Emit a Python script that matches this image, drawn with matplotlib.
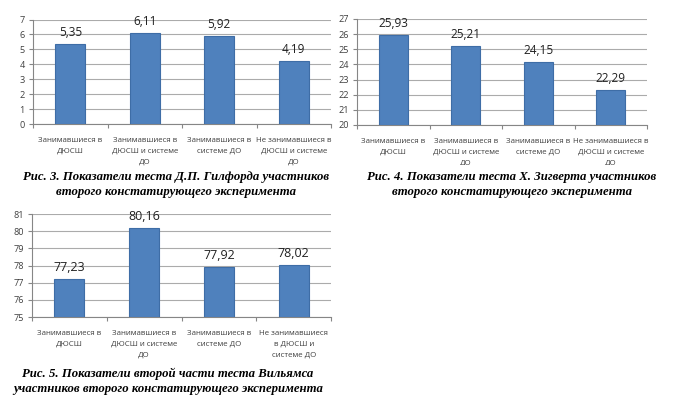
import matplotlib
matplotlib.use("Agg")
import matplotlib.pyplot as plt
from matplotlib.patches import Rectangle

W, H = 683, 407

cats1 = ["Занимавшиеся в\nДЮСШ", "Занимавшиеся в\nДЮСШ и системе\nДО",
         "Занимавшиеся в\nсистеме ДО", "Не занимавшиеся в\nДЮСШ и системе\nДО"]
vals1 = [5.35, 6.11, 5.92, 4.19]
lbl1 = ["5,35", "6,11", "5,92", "4,19"]
ylim1 = (0, 7)

cats2 = ["Занимавшиеся в\nДЮСШ", "Занимавшиеся в\nДЮСШ и системе\nДО",
         "Занимавшиеся в\nсистеме ДО", "Не занимавшиеся в\nДЮСШ и системе\nДО"]
vals2 = [25.93, 25.21, 24.15, 22.29]
lbl2 = ["25,93", "25,21", "24,15", "22,29"]
ylim2 = (20, 27)

cats3 = ["Занимавшиеся в\nДЮСШ", "Занимавшиеся в\nДЮСШ и системе\nДО",
         "Занимавшиеся в\nсистеме ДО", "Не занимавшиеся\nв ДЮСШ и\nсистеме ДО"]
vals3 = [77.23, 80.16, 77.92, 78.02]
lbl3 = ["77,23", "80,16", "77,92", "78,02"]
ylim3 = (75, 81)

cap1 = ["Рис. 3. Показатели теста Д.П. Гилфорда участников",
        "второго констатирующего эксперимента"]
cap2 = ["Рис. 4. Показатели теста Х. Зигверта участников",
        "второго констатирующего эксперимента"]
cap3 = ["Рис. 5. Показатели второй части теста Вильямса",
        "участников второго констатирующего эксперимента"]

BAR = "#4F81BD"
EDGE = "#3E6DA6"
GRID = "#ABABAB"
TXT = "#404040"

fig = plt.figure(figsize=(W / 100, H / 100), dpi=100)
fig.patch.set_facecolor("white")


def fx(px):
    return px / W


def fy(py):
    return 1 - py / H


def make_chart(left, right, top, bottom, cats, vals, lbls, ylim, lblsize, catsize, ticksize):
    ax = fig.add_axes([fx(left), fy(bottom), fx(right - left), (bottom - top) / H])
    x = range(len(vals))
    ax.bar(x, [v - ylim[0] for v in vals], bottom=ylim[0], width=0.4,
           color=BAR, edgecolor=EDGE, linewidth=0.8, zorder=3)
    ax.set_xlim(-0.5, len(vals) - 0.5)
    ax.set_ylim(*ylim)
    ax.set_yticks(range(ylim[0], ylim[1] + 1))
    ax.yaxis.grid(True, color=GRID, linewidth=0.8, zorder=0)
    for s in ["top", "right"]:
        ax.spines[s].set_visible(False)
    for s in ["left", "bottom"]:
        ax.spines[s].set_color("#868686")
        ax.spines[s].set_linewidth(0.8)
    ax.tick_params(axis="y", length=3, color="#868686", labelsize=ticksize,
                   labelcolor=TXT, pad=3)
    ax.set_xticks([i - 0.5 for i in range(len(vals) + 1)])
    ax.set_xticklabels([])
    ax.tick_params(axis="x", length=3, color="#868686", direction="out")
    for i, c in enumerate(cats):
        ax.annotate(c, xy=(i, 0), xycoords=("data", "axes fraction"),
                    xytext=(0, -13), textcoords="offset pixels",
                    ha="center", va="top", fontsize=catsize, color=TXT,
                    linespacing=1.75, annotation_clip=False)
    for i, (v, l) in enumerate(zip(vals, lbls)):
        ax.annotate(l, xy=(i, v), xytext=(0, 5), textcoords="offset pixels",
                    ha="center", va="bottom", fontsize=lblsize, color="#202020")
    return ax


plt.rcParams["font.family"] = ["Open Sans", "DejaVu Sans"]

make_chart(33, 331, 19.5, 124, cats1, vals1, lbl1, ylim1, 8.5, 5.7, 6.6)
make_chart(357, 647, 19, 125, cats2, vals2, lbl2, ylim2, 8.5, 5.7, 6.6)
make_chart(32, 331, 214, 317, cats3, vals3, lbl3, ylim3, 9, 5.7, 6.6)

# clip the bottom of chart 2 labels (as in the source scan)
fig.patches.append(Rectangle((fx(350), fy(171)), fx(333), 6.0 / H,
                             transform=fig.transFigure, facecolor="white",
                             edgecolor="none", zorder=5))

capfont = dict(family="Liberation Serif", weight="bold", style="italic",
               fontsize=9.2, color="black", ha="center", va="center", zorder=6)
for (cx, cy, cap) in [(176, 177, cap1), (512, 177, cap2), (168, 374, cap3)]:
    fig.text(fx(cx), fy(cy), cap[0], **capfont)
    fig.text(fx(cx), fy(cy + 15), cap[1], **capfont)

fig.savefig("out.png", dpi=100, facecolor="white")
